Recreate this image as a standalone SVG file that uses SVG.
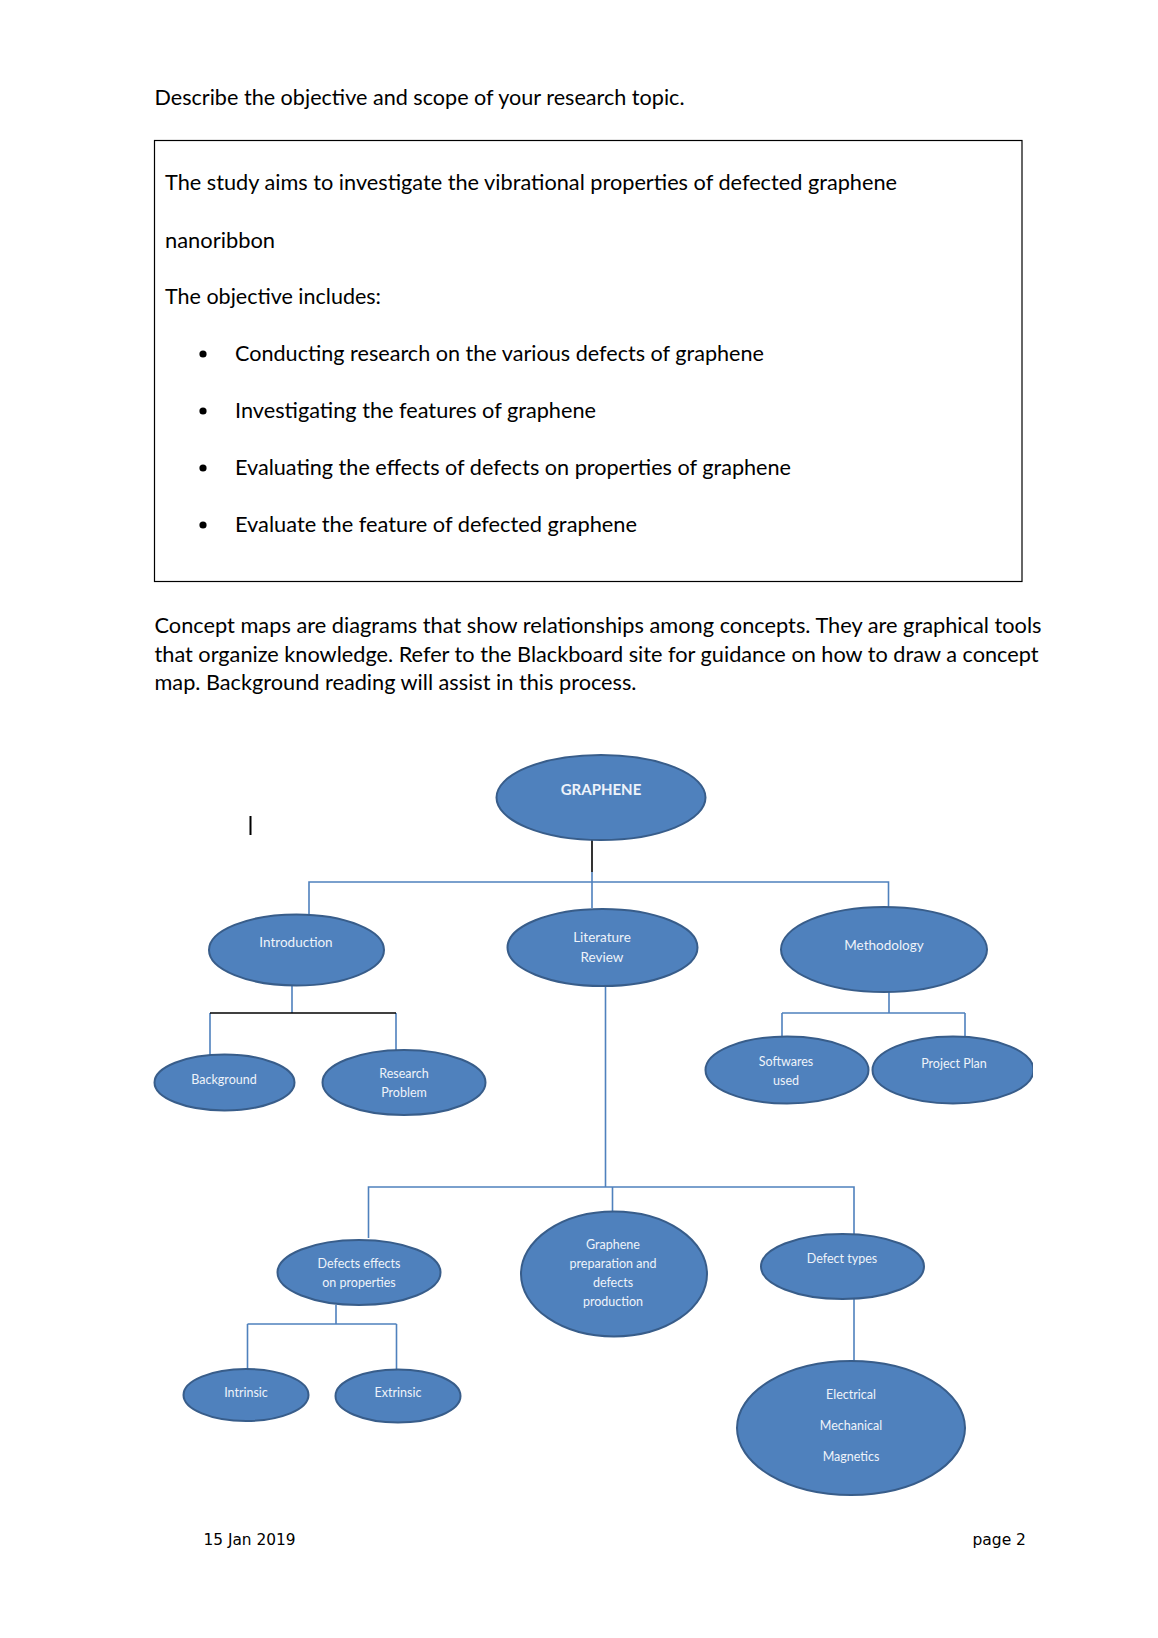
<svg xmlns="http://www.w3.org/2000/svg" width="1158" height="1638" viewBox="0 0 1158 1638">
<defs>
<style>
.t{font-family:Lato,"Liberation Sans",sans-serif;font-size:21.5px;fill:#000}
.f{font-family:"DejaVu Sans","Liberation Sans",sans-serif;font-size:15.5px;fill:#000}
.n{fill:#4f81bd;stroke:#385d8a;stroke-width:2}
.l{font-family:Lato,"Liberation Sans",sans-serif;font-size:12.5px;fill:#eef3fa;text-anchor:middle}
.b{stroke:#4f81bd;stroke-width:1.6;fill:none}
.k{stroke:#000;stroke-width:1.6;fill:none}
</style>
<clipPath id="pc"><rect x="0" y="0" width="1033" height="1638"/></clipPath>
</defs>
<rect width="1158" height="1638" fill="#fff"/>
<g id="text-top">
<text class="t" x="154.5" y="105" textLength="530" lengthAdjust="spacingAndGlyphs">Describe the objective and scope of your research topic.</text>
<rect x="154.5" y="140.5" width="867.5" height="441" fill="none" stroke="#000" stroke-width="1.2"/>
<text class="t" x="165" y="190" textLength="732" lengthAdjust="spacingAndGlyphs">The study aims to investigate the vibrational properties of defected graphene</text>
<text class="t" x="165" y="247.5" textLength="110" lengthAdjust="spacingAndGlyphs">nanoribbon</text>
<text class="t" x="165" y="304" textLength="216" lengthAdjust="spacingAndGlyphs">The objective includes:</text>
<circle cx="203" cy="354" r="3.6" fill="#000"/>
<circle cx="203" cy="411" r="3.6" fill="#000"/>
<circle cx="203" cy="468" r="3.6" fill="#000"/>
<circle cx="203" cy="525" r="3.6" fill="#000"/>
<text class="t" x="235" y="361" textLength="529" lengthAdjust="spacingAndGlyphs">Conducting research on the various defects of graphene</text>
<text class="t" x="235" y="418" textLength="361" lengthAdjust="spacingAndGlyphs">Investigating the features of graphene</text>
<text class="t" x="235" y="475" textLength="556" lengthAdjust="spacingAndGlyphs">Evaluating the effects of defects on properties of graphene</text>
<text class="t" x="235" y="532" textLength="402" lengthAdjust="spacingAndGlyphs">Evaluate the feature of defected graphene</text>
<text class="t" x="154.5" y="633" textLength="887" lengthAdjust="spacingAndGlyphs">Concept maps are diagrams that show relationships among concepts. They are graphical tools</text>
<text class="t" x="154.5" y="662" textLength="884" lengthAdjust="spacingAndGlyphs">that organize knowledge. Refer to the Blackboard site for guidance on how to draw a concept</text>
<text class="t" x="154.5" y="690" textLength="482" lengthAdjust="spacingAndGlyphs">map. Background reading will assist in this process.</text>
</g>
<rect x="249.5" y="816" width="2" height="19" fill="#000"/>
<g id="connectors">
<path class="k" d="M592 840V872"/>
<path class="b" d="M309 914V882H888.5V912M592 872V908"/>
<path class="b" d="M292 986V1013M210 1013V1055M396 1013V1050"/>
<path class="k" d="M210 1013H396"/>
<path class="b" d="M605.5 986V1187M368.5 1238V1187H854V1234M612.5 1187V1211"/>
<path class="b" d="M889 992V1013M782 1013H965M782 1013V1037M965 1013V1037"/>
<path class="b" d="M854 1299V1361"/>
<path class="b" d="M336 1305V1324M247.5 1324H396.5M247.5 1324V1369M396.5 1324V1370"/>
</g>
<g id="graphene"><ellipse class="n" cx="601" cy="797.5" rx="104.5" ry="42.5"/><text class="l" x="601" y="795" style="font-weight:bold;font-size:15px">GRAPHENE</text></g>
<g id="introduction"><ellipse class="n" cx="296.5" cy="950" rx="87.5" ry="35.5"/><text class="l" x="296" y="947" style="font-size:13.5px">Introduction</text></g>
<g id="literature"><ellipse class="n" cx="602.5" cy="947.5" rx="95" ry="38.5"/><text class="l" x="602" y="942" style="font-size:13.5px">Literature</text><text class="l" x="602" y="962" style="font-size:13.5px">Review</text></g>
<g id="methodology"><ellipse class="n" cx="884" cy="949.5" rx="103" ry="42.5"/><text class="l" x="884" y="950" style="font-size:13.5px">Methodology</text></g>
<g id="background"><ellipse class="n" cx="224.5" cy="1082.5" rx="70" ry="28"/><text class="l" x="224" y="1084">Background</text></g>
<g id="research-problem"><ellipse class="n" cx="404" cy="1082.5" rx="81.5" ry="32.5"/><text class="l" x="404" y="1078">Research</text><text class="l" x="404" y="1097">Problem</text></g>
<g id="softwares"><ellipse class="n" cx="787" cy="1070" rx="81.5" ry="33.5"/><text class="l" x="786" y="1066">Softwares</text><text class="l" x="786" y="1085">used</text></g>
<g id="project-plan"><ellipse class="n" cx="953" cy="1070" rx="80.5" ry="33.5" clip-path="url(#pc)"/><text class="l" x="954" y="1068">Project Plan</text></g>
<g id="defects-effects"><ellipse class="n" cx="359" cy="1272.5" rx="81.5" ry="32.5"/><text class="l" x="359" y="1268">Defects effects</text><text class="l" x="359" y="1287">on properties</text></g>
<g id="graphene-prep"><ellipse class="n" cx="614" cy="1274" rx="93" ry="62.5"/><text class="l" x="613" y="1249">Graphene</text><text class="l" x="613" y="1268">preparation and</text><text class="l" x="613" y="1287">defects</text><text class="l" x="613" y="1306">production</text></g>
<g id="defect-types"><ellipse class="n" cx="842.5" cy="1266.5" rx="81.5" ry="32.5"/><text class="l" x="842" y="1263">Defect types</text></g>
<g id="properties"><ellipse class="n" cx="851" cy="1428" rx="114" ry="67"/><text class="l" x="851" y="1399">Electrical</text><text class="l" x="851" y="1430">Mechanical</text><text class="l" x="851" y="1461">Magnetics</text></g>
<g id="intrinsic"><ellipse class="n" cx="246" cy="1395" rx="62.5" ry="26"/><text class="l" x="246" y="1397">Intrinsic</text></g>
<g id="extrinsic"><ellipse class="n" cx="398" cy="1396" rx="62.5" ry="26.5"/><text class="l" x="398" y="1397">Extrinsic</text></g>
<g id="footer">
<text class="f" x="203.5" y="1545" textLength="92" lengthAdjust="spacingAndGlyphs">15 Jan 2019</text>
<text class="f" x="1026" y="1545" text-anchor="end">page 2</text>
</g>
</svg>
